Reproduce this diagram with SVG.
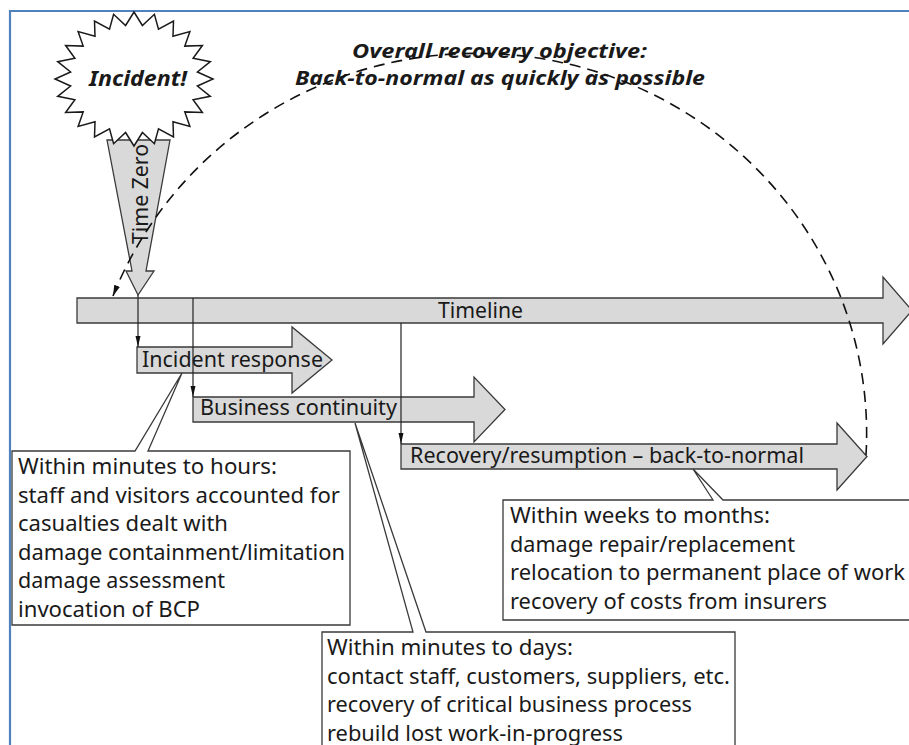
<svg xmlns="http://www.w3.org/2000/svg" width="909" height="745" viewBox="0 0 909 745">
<style>
.sh{fill:#d9d9d9;stroke:#3a3a3a;stroke-width:1.3;stroke-linejoin:miter}
.bx{fill:#ffffff;stroke:#3a3a3a;stroke-width:1.3}
.t{font-family:"Noto Sans","Open Sans","DejaVu Sans",sans-serif;font-size:21px;fill:#1a1a1a}
.bi{font-family:"Noto Sans","Open Sans","DejaVu Sans",sans-serif;font-weight:bold;font-style:italic;fill:#1a1a1a}
.cn{fill:none;stroke:#222;stroke-width:1.2}
</style>
<defs>
<marker id="ah" markerUnits="userSpaceOnUse" markerWidth="11" markerHeight="6" refX="11" refY="3" orient="auto">
<path d="M0,0.5 L11,3 L0,5.5 Z" fill="#111"/>
</marker>
<marker id="ah2" markerUnits="userSpaceOnUse" markerWidth="11" markerHeight="7" refX="11" refY="3.5" orient="auto-start-reverse">
<path d="M0,0.5 L11,3.5 L0,6.5 Z" fill="#111"/>
</marker>
</defs>
<rect width="909" height="745" fill="#ffffff"/>
<g id="frame">
<path d="M10,745 L10,11 L909,11" fill="none" stroke="#4f81bd" stroke-width="2.2"/>
</g>
<g id="time-zero">
<path class="sh" d="M107,140 L132,271 L126,271 L138,295 L154,271 L146,271 L170,140 Z"/>
<text class="t" font-size="18" text-anchor="middle" transform="translate(147.5,194) rotate(-90)" textLength="100" lengthAdjust="spacingAndGlyphs">Time Zero</text>
</g>
<g id="incident">
<polygon fill="#ffffff" stroke="#1a1a1a" stroke-width="1.5" stroke-linejoin="miter" points="134,12 142.4,25.5 154.4,14.3 158.5,29.1 173.5,21 173,36.2 189.9,31.6 184.8,46.1 202.4,45.5 193.1,58.3 210.3,61.7 197.4,72 213,79 197.4,86 210.3,96.3 193.1,99.7 202.4,112.5 184.8,111.9 189.9,126.4 173,121.8 173.5,137 158.5,128.9 154.4,143.7 142.4,132.5 134,146 125.6,132.5 113.6,143.7 109.5,128.9 94.5,137 95,121.8 78.1,126.4 83.2,111.9 65.6,112.5 74.9,99.7 57.7,96.3 70.6,86 55,79 70.6,72 57.7,61.7 74.9,58.3 65.6,45.5 83.2,46.1 78.1,31.6 95,36.2 94.5,21 109.5,29.1 113.6,14.3 125.6,25.5"/>
<text class="bi" font-size="21" x="89" y="86" textLength="98" lengthAdjust="spacingAndGlyphs">Incident!</text>
</g>
<g id="timeline">
<path class="sh" d="M77,298 L883,298 L883,277 L912,310.5 L883,344 L883,323 L77,323 Z"/>
<text class="t" x="438" y="318" textLength="85" lengthAdjust="spacingAndGlyphs">Timeline</text>
</g>
<g id="incident-response">
<path class="sh" d="M137,347 L292,347 L292,327 L332,360 L292,393 L292,373 L137,373 Z"/>
<text class="t" x="142" y="367" textLength="181" lengthAdjust="spacingAndGlyphs">Incident response</text>
</g>
<g id="business-continuity">
<path class="sh" d="M193,397 L474,397 L474,377 L505,409.5 L474,442 L474,422 L193,422 Z"/>
<text class="t" x="200" y="415" textLength="197" lengthAdjust="spacingAndGlyphs">Business continuity</text>
</g>
<g id="recovery">
<path class="sh" d="M401,444 L837,444 L837,423 L867,456.5 L837,490 L837,469 L401,469 Z"/>
<text class="t" x="410" y="463" textLength="394" lengthAdjust="spacingAndGlyphs">Recovery/resumption – back-to-normal</text>
</g>
<g id="callout-hours">
<path class="bx" d="M12,451 L135,451 L182,373 L148,451 L350,451 L350,625 L12,625 Z"/>
<text class="t" x="18" y="474" textLength="259" lengthAdjust="spacingAndGlyphs">Within minutes to hours:</text>
<text class="t" x="18" y="502.6" textLength="322" lengthAdjust="spacingAndGlyphs">staff and visitors accounted for</text>
<text class="t" x="18" y="531.2" textLength="210" lengthAdjust="spacingAndGlyphs">casualties dealt with</text>
<text class="t" x="18" y="559.8" textLength="327" lengthAdjust="spacingAndGlyphs">damage containment/limitation</text>
<text class="t" x="18" y="588.4" textLength="207" lengthAdjust="spacingAndGlyphs">damage assessment</text>
<text class="t" x="18" y="617" textLength="182" lengthAdjust="spacingAndGlyphs">invocation of BCP</text>
</g>
<g id="callout-days">
<path class="bx" d="M322,750 L322,632 L413,632 L355,423 L426,632 L735,632 L735,750"/>
<text class="t" x="327" y="655" textLength="246" lengthAdjust="spacingAndGlyphs">Within minutes to days:</text>
<text class="t" x="327" y="683.6" textLength="403" lengthAdjust="spacingAndGlyphs">contact staff, customers, suppliers, etc.</text>
<text class="t" x="327" y="712.2" textLength="365" lengthAdjust="spacingAndGlyphs">recovery of critical business process</text>
<text class="t" x="327" y="740.8" textLength="296" lengthAdjust="spacingAndGlyphs">rebuild lost work-in-progress</text>
</g>
<g id="callout-weeks">
<path class="bx" d="M915,620 L503,620 L503,500 L713,500 L693,469 L723,500 L915,500"/>
<text class="t" x="510" y="523" textLength="260" lengthAdjust="spacingAndGlyphs">Within weeks to months:</text>
<text class="t" x="510" y="551.6" textLength="285" lengthAdjust="spacingAndGlyphs">damage repair/replacement</text>
<text class="t" x="510" y="580.2" textLength="395" lengthAdjust="spacingAndGlyphs">relocation to permanent place of work</text>
<text class="t" x="510" y="608.8" textLength="317" lengthAdjust="spacingAndGlyphs">recovery of costs from insurers</text>
</g>
<g id="objective">
<text class="bi" font-size="19" x="352" y="58" textLength="295" lengthAdjust="spacingAndGlyphs">Overall recovery objective:</text>
<text class="bi" font-size="19" x="295" y="85" textLength="410" lengthAdjust="spacingAndGlyphs">Back-to-normal as quickly as possible</text>
</g>
<g id="connectors">
<line class="cn" x1="138" y1="295" x2="138" y2="347" marker-end="url(#ah)"/>
<line class="cn" x1="193" y1="298" x2="193" y2="397" marker-end="url(#ah)"/>
<line class="cn" x1="401" y1="323" x2="401" y2="444" marker-end="url(#ah)"/>
<path d="M113,296 A390,380 0 0 1 866,455" fill="none" stroke="#111" stroke-width="1.6" stroke-dasharray="11 7" marker-start="url(#ah2)"/>
</g>
</svg>
